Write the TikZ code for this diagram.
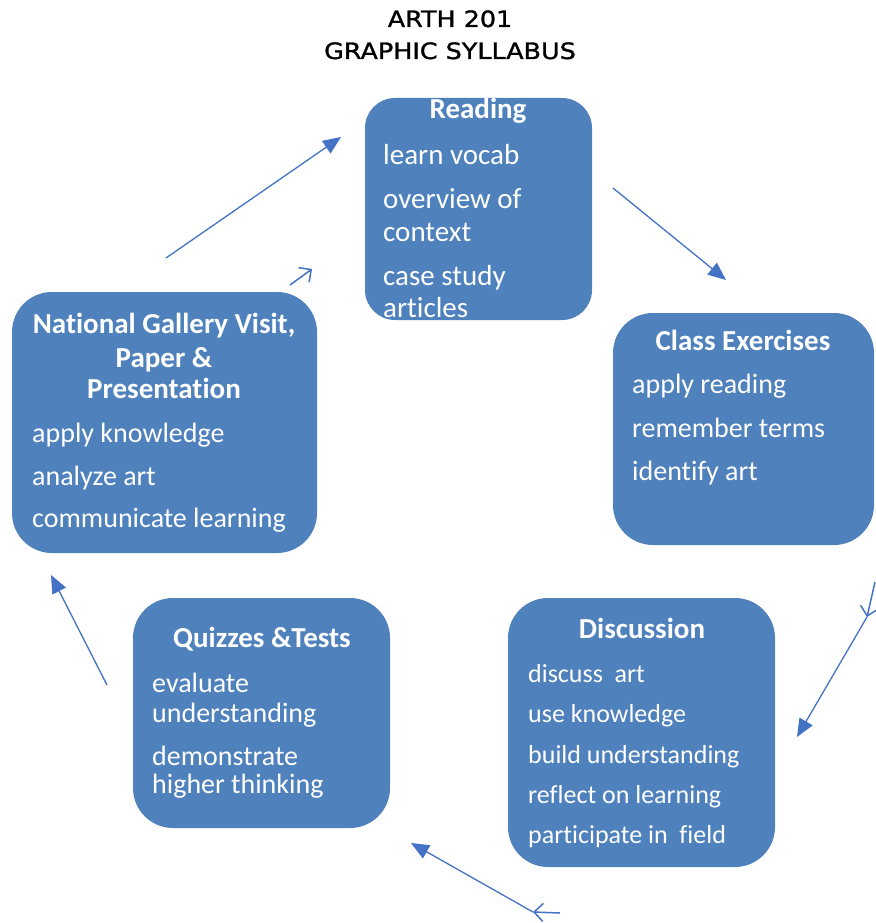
\documentclass[tikz,border=0pt]{standalone}
\usepackage{fontspec}
\setmainfont[Ligatures={NoCommon,NoContextual}]{Carlito}
\newfontfamily\titlefont[FakeStretch=1.13,FakeBold=1.3]{DejaVu Sans}
\usetikzlibrary{arrows.meta}
\definecolor{boxblue}{HTML}{4F81BD}
\definecolor{arrblue}{HTML}{4472C4}
\begin{document}
\begin{tikzpicture}[x=1pt,y=-1pt,
  box/.style={fill=boxblue, draw=none, rounded corners=#1, inner sep=0, outer sep=0},
  box/.default=36pt,
  hd/.style={anchor=base, text=white, inner sep=0, font=\bfseries\fontsize{29}{34}\selectfont},
  bd/.style={anchor=base west, text=white, inner sep=0, font=\fontsize{#1}{#1}\selectfont},
  bd/.default=28,
  ttl/.style={anchor=base, inner sep=0, font=\titlefont\fontsize{22.5}{26}\selectfont},
  fa/.style={draw=arrblue, line width=1.3pt, -{Triangle[length=18pt,width=15pt]}},
  oa/.style={draw=arrblue, line width=1.5pt, -{Straight Barb[length=9pt,width=18pt]}},
]
\useasboundingbox (0,0) rectangle (875,923);
\fill[white] (0,0) rectangle (875,923);

% title
\node[ttl] (t1) at (450,27) {ARTH 201};
\node[ttl] (t2) at (450,59) {GRAPHIC SYLLABUS};

% boxes
\node[box=30pt, minimum width=227pt, minimum height=222pt] (reading) at (478.5,209) {};
\node[box=40pt, minimum width=305pt, minimum height=261pt] (gallery) at (164.5,422.5) {};
\node[box=40pt, minimum width=261pt, minimum height=232pt] (class) at (743.5,429) {};
\node[box=40pt, minimum width=267pt, minimum height=269pt] (disc) at (641.5,732.5) {};
\node[box=40pt, minimum width=257pt, minimum height=230pt] (quiz) at (261.5,713) {};

% Reading
\node[hd] (rh) at (478,118) {Reading};
\node[bd=29] (r1) at (383,164) {learn vocab};
\node[bd=29] (r2) at (383,208) {overview of};
\node[bd=29] (r3) at (383,241) {context};
\node[bd=29] (r4) at (383,285) {case study};
\node[bd=29] (r5) at (383,317) {articles};

% National Gallery
\node[hd] (gh1) at (164,333) {National Gallery Visit,};
\node[hd] (gh2) at (164,367) {Paper \&};
\node[hd] (gh3) at (164,398) {Presentation};
\node[bd] (g1) at (32,442) {apply knowledge};
\node[bd] (g2) at (32,485) {analyze art};
\node[bd] (g3) at (32,527) {communicate learning};

% Class Exercises
\node[hd] (ch) at (743,350) {Class Exercises};
\node[bd] (c1) at (632,393) {apply reading};
\node[bd] (c2) at (632,437) {remember terms};
\node[bd] (c3) at (632,480) {identify art};

% Discussion
\node[hd] (dh) at (642,638) {Discussion};
\node[bd=26] (d1) at (528,682) {discuss\ \ art};
\node[bd=26] (d2) at (528,722) {use knowledge};
\node[bd=26] (d3) at (528,763) {build understanding};
\node[bd=26] (d4) at (528,803) {reflect on learning};
\node[bd=26] (d5) at (528,843) {participate in\ \ field};

% Quizzes
\node[hd] (qh) at (262,647) {Quizzes \&Tests};
\node[bd] (q1) at (152,692) {evaluate};
\node[bd] (q2) at (152,722) {understanding};
\node[bd] (q3) at (152,765) {demonstrate};
\node[bd] (q4) at (152,793) {higher thinking};

% arrow end points
\coordinate (a1s) at (166,258);
\coordinate (a1e) at (341,137);
\coordinate (a2s) at (290,285);
\coordinate (a2e) at (312,269);
\coordinate (a3s) at (613,188);
\coordinate (a3e) at (726,280);
\coordinate (a4s) at (875,582);
\coordinate (a4e) at (867,617);
\coordinate (a5e) at (797,737);
\coordinate (a6s) at (560,913);
\coordinate (a6e) at (533,912);
\coordinate (a7e) at (411,843);
\coordinate (a8s) at (107,685);
\coordinate (a8e) at (51,575);

\draw[fa] (a1s) -- (a1e);
\draw[oa] (a2s) -- (a2e);
\draw[fa] (a3s) -- (a3e);
\draw[oa] (a4s) -- (a4e);
\draw[fa] (a4e) -- (a5e);
\draw[oa] (a6s) -- (a6e);
\draw[fa] (a6e) -- (a7e);
\draw[fa] (a8s) -- (a8e);
\end{tikzpicture}
\end{document}
